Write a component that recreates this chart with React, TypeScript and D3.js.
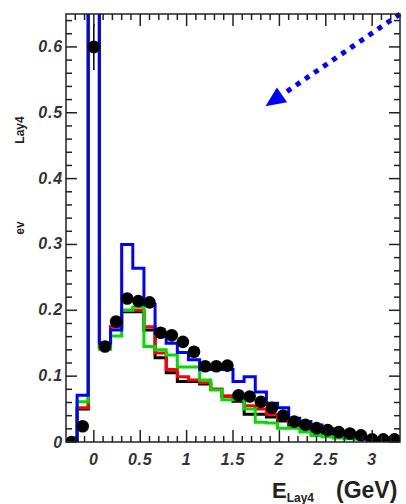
import React from "react";
import * as d3 from "d3";

// Histogram binning (E_Lay4 in GeV)
const binStart = -0.3;
const binWidth = 0.12;

// Data points (black dots) per bin
const dataValues = [0.0, 0.024, 0.6, 0.145, 0.183, 0.218, 0.214, 0.212, 0.166, 0.162, 0.152, 0.137, 0.115, 0.115, 0.116, 0.071, 0.069, 0.061, 0.052, 0.04, 0.031, 0.026, 0.021, 0.018, 0.015, 0.013, 0.01, 0.004, 0.004, 0.004];
const dataErrors = [0, 0.004, 0.035, 0.006, 0.006, 0.007, 0.007, 0.007, 0.006, 0.006, 0.006, 0.005, 0.005, 0.005, 0.005, 0.004, 0.004, 0.004, 0.004, 0.003, 0.003, 0.003, 0.002, 0.002, 0.002, 0.002, 0.002, 0.001, 0.001, 0.001];

// Simulation histograms
const histBlack = [0, 0.05, 0.9, 0.143, 0.175, 0.198, 0.198, 0.17, 0.128, 0.105, 0.092, 0.092, 0.088, 0.08, 0.07, 0.062, 0.042, 0.042, 0.038, 0.032, 0.026, 0.021, 0.016, 0.013, 0.01, 0.008, 0.006, 0.004, 0.002, 0.002];
const histRed = [0, 0.052, 0.9, 0.145, 0.175, 0.2, 0.2, 0.175, 0.135, 0.11, 0.099, 0.094, 0.09, 0.08, 0.069, 0.069, 0.055, 0.05, 0.042, 0.035, 0.028, 0.024, 0.02, 0.018, 0.014, 0.01, 0.008, 0.004, 0.003, 0.002];
const histGreen = [0, 0.061, 0.9, 0.141, 0.161, 0.2, 0.205, 0.145, 0.14, 0.132, 0.114, 0.114, 0.094, 0.079, 0.064, 0.064, 0.05, 0.03, 0.029, 0.021, 0.021, 0.015, 0.01, 0.008, 0.006, 0.005, 0.004, 0.003, 0.002, 0.002];
const histBlue = [0, 0.071, 1.2, 0.15, 0.17, 0.3, 0.264, 0.209, 0.165, 0.15, 0.136, 0.125, 0.11, 0.11, 0.11, 0.092, 0.099, 0.076, 0.059, 0.052, 0.036, 0.031, 0.026, 0.02, 0.015, 0.011, 0.008, 0.003, 0.003, 0.002];

// Axis ticks
const xTickValues = [0, 0.5, 1, 1.5, 2, 2.5, 3];
const xTickLabels = ["0", "0.5", "1", "1.5", "2", "2.5", "3"];
const yTickValues = [0, 0.1, 0.2, 0.3, 0.4, 0.5, 0.6];
const yTickLabels = ["0", "0.1", "0.2", "0.3", "0.4", "0.5", "0.6"];

// Arrow annotation (data coordinates)
const arrowFrom = [3.3, 0.65];
const arrowTo = [1.85, 0.51];

export default function App() {
  const W = 406, H = 504;
  const L = 66, R = 400, T = 14, B = 442;
  const x = d3.scaleLinear().domain([-0.3, 3.3]).range([L, R]);
  const y = d3.scaleLinear().domain([0, 0.65]).range([B, T]);

  const histPath = (vals: number[]) => {
    const pts: [number, number][] = [[x(binStart), y(0)]];
    vals.forEach((v, i) => {
      pts.push([x(binStart + i * binWidth), y(v)]);
      pts.push([x(binStart + (i + 1) * binWidth), y(v)]);
    });
    pts.push([x(binStart + vals.length * binWidth), y(0)]);
    return d3.line()(pts) || "";
  };

  const xMinor = d3.range(-3, 34).map((k) => k / 10);
  const yMinor = d3.range(0, 33).map((k) => k * 0.02);
  const isXMajor = (v: number) => Math.abs(v * 2 - Math.round(v * 2)) < 1e-6;
  const isYMajor = (v: number) => Math.abs(v * 10 - Math.round(v * 10)) < 1e-6;

  // arrow geometry
  const ax0 = x(arrowFrom[0]), ay0 = y(arrowFrom[1]);
  const ax1 = x(arrowTo[0]), ay1 = y(arrowTo[1]);
  const ang = Math.atan2(ay1 - ay0, ax1 - ax0);
  const headLen = 20, headHalf = 9;
  const bx = ax1 - headLen * Math.cos(ang), by = ay1 - headLen * Math.sin(ang);
  const px = -Math.sin(ang), py = Math.cos(ang);
  const head = `M${ax1},${ay1} L${bx + headHalf * px},${by + headHalf * py} L${bx - headHalf * px},${by - headHalf * py} Z`;

  const labelFont = "'Liberation Sans', Arial, sans-serif";
  const series = [
    { vals: histBlack, color: "#000" },
    { vals: histRed, color: "#ff0000" },
    { vals: histGreen, color: "#00dd00" },
    { vals: histBlue, color: "#0000ff" },
  ];

  return (
    <svg width={W} height={H} style={{ position: "absolute", left: 0, top: 0, background: "#fff" }}>
      <defs>
        <clipPath id="plotclip">
          <rect x={L} y={T} width={R - L} height={B - T} />
        </clipPath>
      </defs>

      <g clipPath="url(#plotclip)">
        {series.map((s, i) => (
          <path key={i} d={histPath(s.vals)} fill="none" stroke={s.color} strokeWidth={3} strokeLinejoin="miter" />
        ))}
        {dataValues.map((v, i) => {
          const cx = x(binStart + (i + 0.5) * binWidth);
          return (
            <g key={i}>
              {dataErrors[i] > 0.01 && (
                <line x1={cx} x2={cx} y1={y(v - dataErrors[i])} y2={y(v + dataErrors[i])} stroke="#000" strokeWidth={1.5} />
              )}
              <circle cx={cx} cy={y(v)} r={6.3} fill="#000" />
            </g>
          );
        })}
      </g>

      {/* arrow */}
      <line x1={ax0} y1={ay0} x2={bx} y2={by} stroke="#0000ff" strokeWidth={5} strokeDasharray="5 6" />
      <path d={head} fill="#0000ff" />

      {/* frame */}
      <rect x={L} y={T} width={R - L} height={B - T} fill="none" stroke="#222" strokeWidth={1.5} />

      {/* x ticks bottom & top */}
      {xMinor.map((v, i) => {
        const len = isXMajor(v) ? 12 : 6;
        const xx = x(v);
        if (xx < L + 0.5 || xx > R - 0.5) return null;
        return (
          <g key={i} stroke="#222" strokeWidth={1.5}>
            <line x1={xx} x2={xx} y1={B} y2={B - len} />
            <line x1={xx} x2={xx} y1={T} y2={T + len} />
          </g>
        );
      })}
      {/* y ticks left & right */}
      {yMinor.map((v, i) => {
        const len = isYMajor(v) ? 11 : 6;
        const yy = y(v);
        if (yy < T + 0.5) return null;
        return (
          <g key={i} stroke="#222" strokeWidth={1.5}>
            <line x1={L} x2={L + len} y1={yy} y2={yy} />
            <line x1={R} x2={R - len} y1={yy} y2={yy} />
          </g>
        );
      })}

      {/* tick labels */}
      {xTickValues.map((v, i) => (
        <text key={i} x={x(v)} y={465} textAnchor="middle" fontFamily={labelFont} fontWeight="bold" fontStyle="italic" fontSize={16} letterSpacing={0.8} fill="#333">
          {xTickLabels[i]}
        </text>
      ))}
      {yTickValues.map((v, i) => (
        <text key={i} x={63} y={y(v) + (v === 0 ? 6 : 5)} textAnchor="end" fontFamily={labelFont} fontWeight="bold" fontStyle="italic" fontSize={16} letterSpacing={0.8} fill="#333">
          {yTickLabels[i]}
        </text>
      ))}

      {/* y-axis title fragments */}
      <text transform="translate(24,130) rotate(-90)" textAnchor="middle" fontFamily={labelFont} fontWeight="bold" fontSize={12} fill="#222">Lay4</text>
      <text transform="translate(24,228) rotate(-90)" textAnchor="middle" fontFamily={labelFont} fontWeight="bold" fontSize={12} fill="#222">ev</text>

      {/* x-axis title */}
      <text x={272} y={498} fontFamily={labelFont} fontWeight="bold" fontSize={22} fill="#222">
        E<tspan fontSize={12} dy={4}>Lay4</tspan>
      </text>
      <text x={336} y={498} fontFamily={labelFont} fontWeight="bold" fontSize={23} fill="#222">(GeV)</text>
    </svg>
  );
}
